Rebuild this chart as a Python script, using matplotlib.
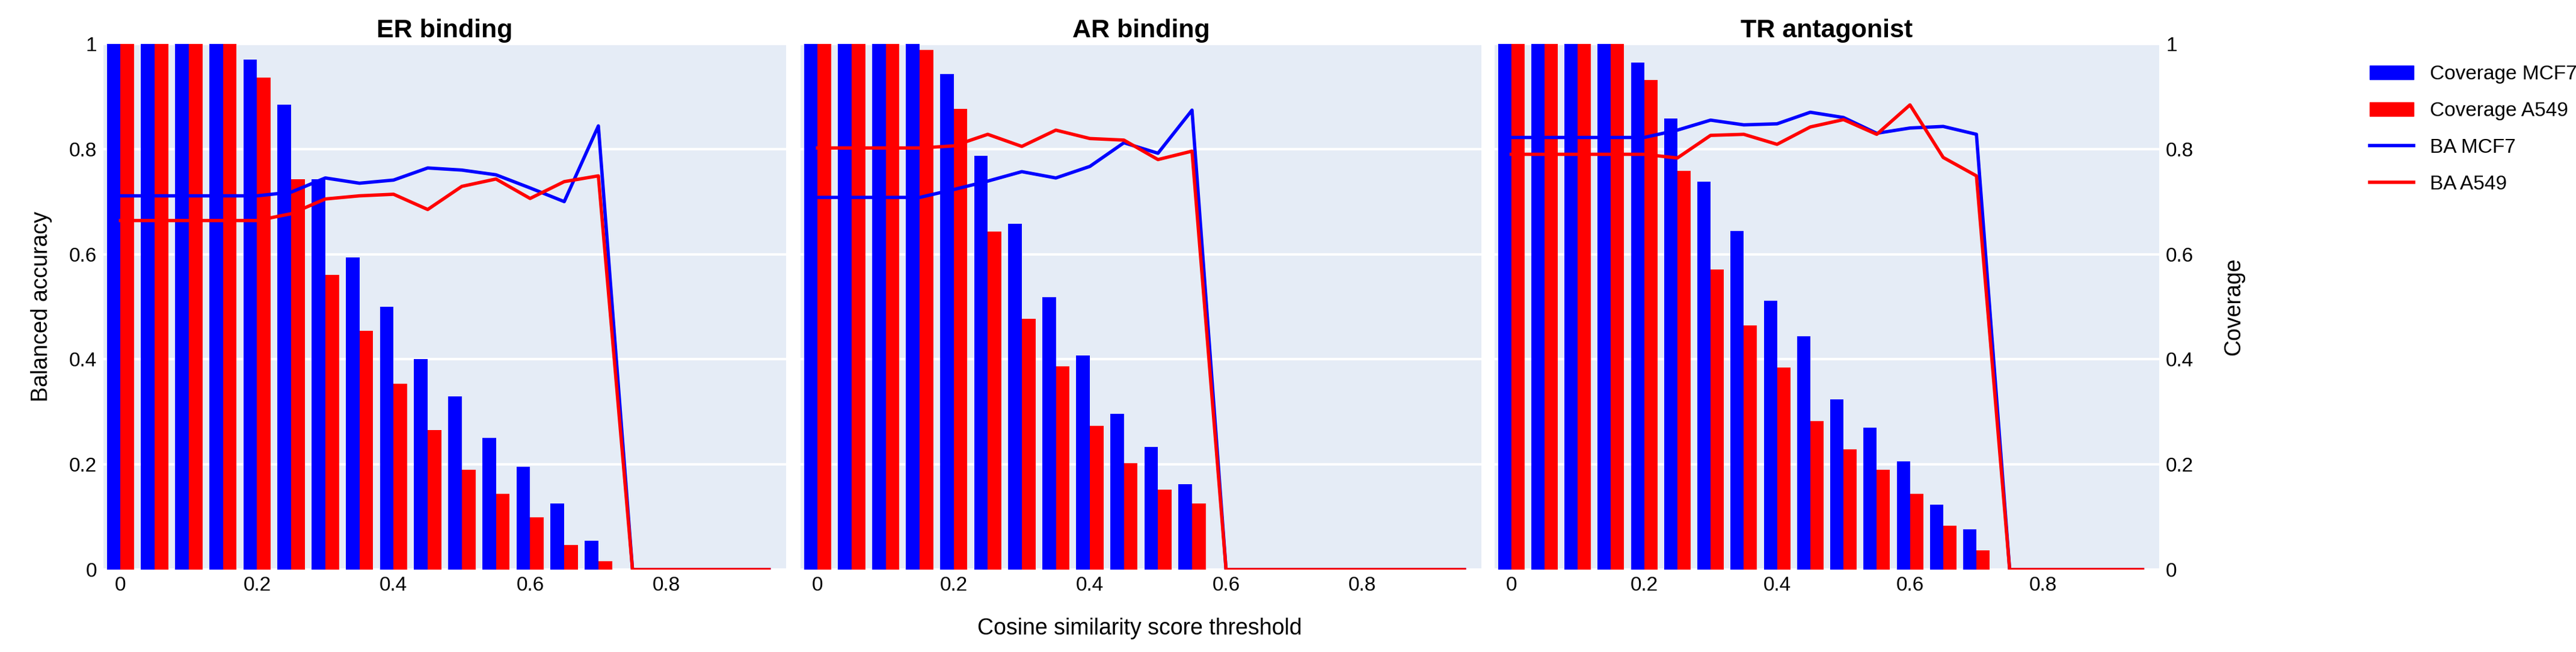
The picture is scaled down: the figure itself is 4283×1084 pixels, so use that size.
import matplotlib.pyplot as plt
import numpy as np
from matplotlib.patches import Patch
from matplotlib.lines import Line2D

plt.rcParams['font.family'] = ['Liberation Sans', 'DejaVu Sans']

thresholds = [round(0.05 * i, 2) for i in range(20)]
titles = ["ER binding", "AR binding", "TR antagonist"]

cov_mcf7 = [
    [1, 1, 1, 1, 0.97, 0.884, 0.743, 0.594, 0.5, 0.4, 0.33, 0.251, 0.196, 0.126, 0.055, 0, 0, 0, 0, 0],
    [1, 1, 1, 1, 0.943, 0.787, 0.658, 0.518, 0.407, 0.296, 0.233, 0.162, 0, 0, 0, 0, 0, 0, 0, 0],
    [1, 1, 1, 1, 0.965, 0.858, 0.738, 0.644, 0.512, 0.444, 0.324, 0.27, 0.206, 0.124, 0.077, 0, 0, 0, 0, 0],
]
cov_a549 = [
    [1, 1, 1, 1, 0.936, 0.743, 0.561, 0.454, 0.354, 0.265, 0.19, 0.144, 0.1, 0.047, 0.016, 0, 0, 0, 0, 0],
    [1, 1, 1, 0.988, 0.877, 0.643, 0.477, 0.387, 0.273, 0.202, 0.152, 0.126, 0, 0, 0, 0, 0, 0, 0, 0],
    [1, 1, 1, 1, 0.931, 0.759, 0.571, 0.465, 0.385, 0.283, 0.229, 0.19, 0.144, 0.083, 0.037, 0, 0, 0, 0, 0],
]
ba_mcf7 = [
    [0.711, 0.711, 0.711, 0.711, 0.711, 0.718, 0.745, 0.735, 0.741, 0.764, 0.76, 0.751, 0.726, 0.70, 0.844, 0, 0, 0, 0, 0],
    [0.708, 0.708, 0.708, 0.708, 0.723, 0.739, 0.757, 0.745, 0.767, 0.812, 0.792, 0.874, 0, 0, 0, 0, 0, 0, 0, 0],
    [0.822, 0.822, 0.822, 0.822, 0.822, 0.836, 0.855, 0.846, 0.848, 0.87, 0.86, 0.83, 0.84, 0.843, 0.828, 0, 0, 0, 0, 0],
]
ba_a549 = [
    [0.664, 0.664, 0.664, 0.664, 0.664, 0.677, 0.705, 0.711, 0.714, 0.685, 0.729, 0.743, 0.706, 0.738, 0.749, 0, 0, 0, 0, 0],
    [0.802, 0.802, 0.802, 0.802, 0.806, 0.828, 0.805, 0.836, 0.82, 0.817, 0.78, 0.796, 0, 0, 0, 0, 0, 0, 0, 0],
    [0.79, 0.79, 0.79, 0.79, 0.79, 0.783, 0.826, 0.828, 0.809, 0.842, 0.856, 0.828, 0.884, 0.784, 0.749, 0, 0, 0, 0, 0],
]

W, H = 4283, 1084
fig = plt.figure(figsize=(W / 100, H / 100), dpi=100)
panels = [(172, 1307), (1331, 2463), (2485, 3590)]
top, bottom = 73, 947
x = np.array(thresholds)

for i, (l, r) in enumerate(panels):
    ax = fig.add_axes([l / W, 1 - bottom / H, (r - l) / W, (bottom - top) / H])
    ax.set_facecolor('#E5ECF6')
    ax.bar(x - 0.01, cov_mcf7[i], width=0.02, color='blue', zorder=2)
    ax.bar(x + 0.01, cov_a549[i], width=0.02, color='red', zorder=2)
    ax.plot(x, ba_mcf7[i], color='blue', lw=4, zorder=3)
    ax.plot(x, ba_a549[i], color='red', lw=4, zorder=3)
    ax.set_xlim(-0.025, 0.975)
    ax.set_ylim(0, 1)
    ax.set_yticks([0, 0.2, 0.4, 0.6, 0.8, 1])
    ax.set_xticks([0, 0.2, 0.4, 0.6, 0.8])
    ax.set_xticklabels(['0', '0.2', '0.4', '0.6', '0.8'])
    ax.grid(axis='y', color='white', lw=3, zorder=1)
    ax.set_axisbelow(True)
    for s in ax.spines.values():
        s.set_visible(False)
    ax.tick_params(length=0, labelsize=24, pad=8)
    ax.set_title(titles[i], fontsize=31, fontweight='bold', pad=8)
    if i == 0:
        ax.set_yticklabels(['0', '0.2', '0.4', '0.6', '0.8', '1'])
        ax.set_ylabel('Balanced accuracy', fontsize=27, labelpad=20)
    elif i == 2:
        ax.yaxis.tick_right()
        ax.set_yticklabels(['0', '0.2', '0.4', '0.6', '0.8', '1'])
        ax.yaxis.set_label_position('right')
        ax.set_ylabel('Coverage', fontsize=27, labelpad=35)
    else:
        ax.set_yticklabels([])

fig.text(1895 / W, 1 - 1045 / H, 'Cosine similarity score threshold', fontsize=27,
         ha='center', va='center')

handles = [Patch(color='blue'), Patch(color='red'),
           Line2D([], [], color='blue', lw=4), Line2D([], [], color='red', lw=4)]
labels = ['Coverage MCF7', 'Coverage A549', 'BA MCF7', 'BA A549']
fig.legend(handles, labels, loc='upper left', bbox_to_anchor=(3910 / W, 1 - 78 / H),
           frameon=False, fontsize=24, handlelength=2.2, labelspacing=0.9)

fig.savefig('out.png', dpi=100)
